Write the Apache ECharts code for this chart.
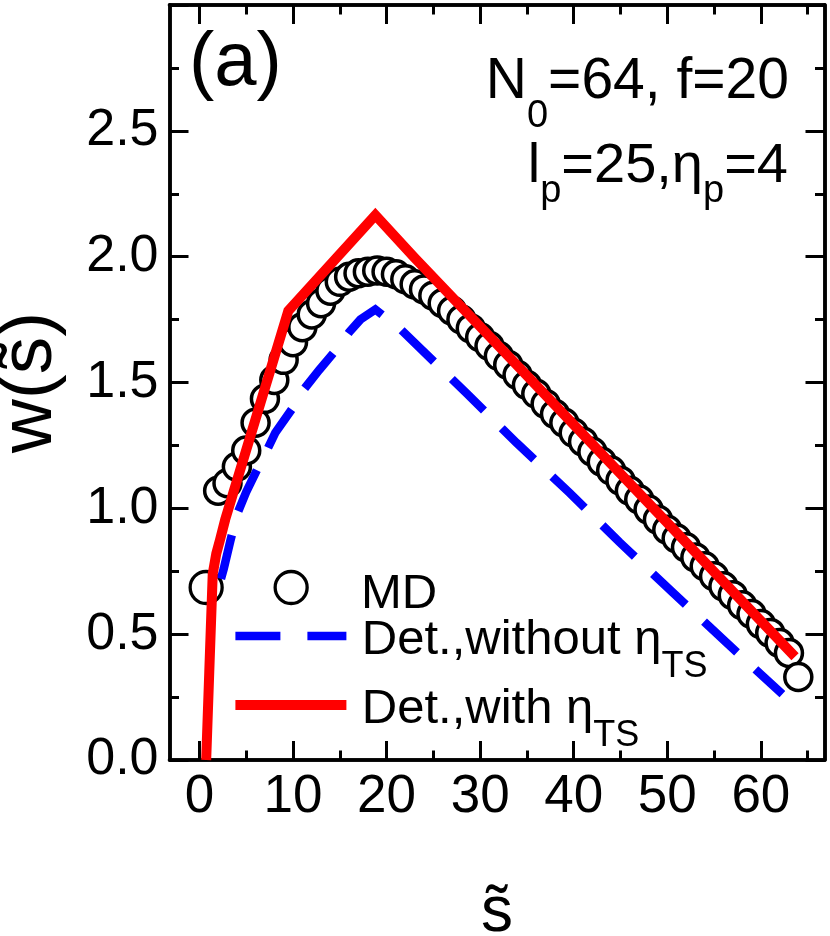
<!DOCTYPE html>
<html>
<head>
<meta charset="utf-8">
<script src="https://cdn.jsdelivr.net/npm/echarts@6/dist/echarts.min.js"></script>
<style>
  html, body { margin: 0; padding: 0; background: #fff; }
  #chart { width: 830px; height: 936px; }
</style>
</head>
<body>
<div id="chart"></div>
<script>
// MD points, one per s from 2 to 64
const mdS = [2, 3, 4, 5, 6, 7, 8, 9, 10, 11, 12, 13, 14, 15, 16, 17, 18, 19, 20, 21,
  22, 23, 24, 25, 26, 27, 28, 29, 30, 31, 32, 33, 34, 35, 36, 37, 38, 39, 40, 41,
  42, 43, 44, 45, 46, 47, 48, 49, 50, 51, 52, 53, 54, 55, 56, 57, 58, 59, 60, 61,
  62, 63, 64];
const mdW = [1.07, 1.10, 1.165, 1.23, 1.34, 1.435, 1.51, 1.59, 1.66, 1.72, 1.77, 1.815, 1.865, 1.90, 1.92, 1.934, 1.94, 1.945, 1.94, 1.93,
  1.91, 1.89, 1.87, 1.845, 1.815, 1.785, 1.75, 1.715, 1.68, 1.645, 1.605, 1.57, 1.53, 1.49, 1.455, 1.415, 1.375, 1.34, 1.30, 1.265,
  1.225, 1.185, 1.15, 1.11, 1.07, 1.035, 0.995, 0.955, 0.915, 0.88, 0.845, 0.805, 0.77, 0.73, 0.69, 0.655, 0.615, 0.58, 0.54, 0.505,
  0.465, 0.425, 0.33];

// deterministic model without eta_TS (blue dashed)
const noEtaS = [2.3, 2.6, 3.3, 4.0, 5.0, 6.3, 7.2, 8.1, 9.9, 11.1, 12.8, 14.5, 16.0, 17.2, 18.8,
  21.4, 28.6, 33.9, 39.6, 44.9, 50.6, 56.3, 62.3];
const noEtaW = [0.72, 0.76, 0.87, 0.975, 1.065, 1.165, 1.23, 1.30, 1.395, 1.47, 1.55, 1.625, 1.70, 1.75, 1.79,
  1.715, 1.455, 1.26, 1.06, 0.865, 0.665, 0.467, 0.262];

// deterministic model with eta_TS (red solid)
const etaS = [0.72, 1.05, 1.42, 1.8, 2.2, 2.75, 9.5, 18.8, 23.0, 63.65];
const etaW = [0.0, 0.35, 0.74, 0.82, 0.875, 0.955, 1.785, 2.165, 1.995, 0.41];

const xMajor = [0, 10, 20, 30, 40, 50, 60];
const xMinor = [5, 15, 25, 35, 45, 55, 65];
const yMajor = [0, 0.5, 1, 1.5, 2, 2.5, 3];
const yMinor = [0.25, 0.75, 1.25, 1.75, 2.25, 2.75];
const yLabels = [0, 0.5, 1, 1.5, 2, 2.5];

const font = 'Liberation Sans, Arial, Helvetica, sans-serif';

function pairs(xs, ys) {
  return xs.map((x, i) => [x, ys[i]]);
}

function xAxisDef(pos, ticks, len, withLabels) {
  return {
    type: 'value', position: pos, min: -3.2, max: 66.8,
    axisLine: { show: true, onZero: false, lineStyle: { color: '#000', width: 3.5 } },
    axisTick: { show: true, inside: true, length: len, customValues: ticks, lineStyle: { color: '#000', width: 3 } },
    axisLabel: withLabels ? {
      show: true, customValues: xMajor, margin: 11, color: '#000',
      fontSize: 53, fontFamily: font
    } : { show: false },
    splitLine: { show: false },
    name: withLabels ? 's\u0303' : '',
    nameLocation: 'middle', nameGap: 121, nameMoveOverlap: false,
    nameTextStyle: { fontSize: 64, fontFamily: font, color: '#000' }
  };
}

function yAxisDef(pos, ticks, len, withLabels) {
  return {
    type: 'value', position: pos, min: 0, max: 3,
    axisLine: { show: true, onZero: false, lineStyle: { color: '#000', width: 3.5 } },
    axisTick: { show: true, inside: true, length: len, customValues: ticks, lineStyle: { color: '#000', width: 3 } },
    axisLabel: withLabels ? {
      show: true, customValues: yLabels, margin: 11, color: '#000',
      fontSize: 52, fontFamily: font, formatter: v => v.toFixed(1)
    } : { show: false },
    splitLine: { show: false },
    name: withLabels ? 'w(s\u0303)' : '',
    nameLocation: 'middle', nameGap: 102, nameMoveOverlap: false,
    nameTextStyle: { fontSize: 75, fontFamily: font, color: '#000' }
  };
}

// legend text: main text + lowered subscript
const legendRich = {
  sp: { width: 10.4 },
  spm: { width: 48.8 },
  a: { fontSize: 49, fontFamily: font, color: '#000', lineHeight: 40.4, verticalAlign: 'top' },
  m: { fontSize: 49, fontFamily: font, color: '#000', lineHeight: 36, verticalAlign: 'top' },
  b: { fontSize: 36, fontFamily: font, color: '#000', lineHeight: 26, padding: [33.2, 0, 0, 0], verticalAlign: 'top' }
};

function legendDef(name, icon, w, h, style, left, top, text) {
  return {
    data: [{ name: name, icon: icon, itemStyle: style }],
    left: left, top: top, padding: 0, orient: 'vertical',
    itemWidth: w, itemHeight: h, selectedMode: false, z: 1,
    formatter: () => text,
    textStyle: { color: '#000', rich: legendRich }
  };
}

const chart = echarts.init(document.getElementById('chart'), null, { renderer: 'canvas' });

chart.setOption({
  animation: false,
  textStyle: { fontFamily: font },
  grid: { left: 169.5, top: 5, width: 655, height: 755, containLabel: false, outerBoundsMode: 'none' },
  xAxis: [
    xAxisDef('bottom', xMajor, 19, true),
    xAxisDef('bottom', xMinor, 9.5, false),
    xAxisDef('top', xMajor, 19, false),
    xAxisDef('top', xMinor, 9.5, false)
  ],
  yAxis: [
    yAxisDef('left', yMajor, 19, true),
    yAxisDef('left', yMinor, 9.5, false),
    yAxisDef('right', yMajor, 19, false),
    yAxisDef('right', yMinor, 9.5, false)
  ],
  legend: [
    legendDef('MD',
      'path://M1.5,17.5a16,16 0 1,0 32,0a16,16 0 1,0 -32,0M86.5,17.5a16,16 0 1,0 32,0a16,16 0 1,0 -32,0',
      117, 32, { color: '#fff', borderColor: '#000', borderWidth: 3.3 },
      188.5, 569.5, '{spm| }{m|MD}'),
    legendDef('noEta', 'path://M0,0h45v8.5h-45zM72,0h39v8.5h-39z',
      111, 8.5, { color: '#0000ff', borderWidth: 0 },
      235.4, 615.8, '{sp| }{a|Det.,without \u03b7}{b|TS}'),
    legendDef('eta', 'path://M0,0h111v10h-111z',
      111, 10, { color: '#ff0000', borderWidth: 0 },
      235.4, 684.7, '{sp| }{a|Det.,with \u03b7}{b|TS}')
  ],
  graphic: [
    {
      type: 'text', x: 189, y: 64.5, silent: true,
      style: { text: '(a)', fontSize: 76, fontFamily: font, fill: '#000', align: 'left', verticalAlign: 'middle' }
    },
    {
      type: 'text', x: 789, y: 53.5, silent: true,
      style: {
        text: '{a|N}{b|0}{a|=64, f=20}', align: 'right', verticalAlign: 'top',
        rich: {
          a: { fontSize: 57, fontFamily: font, fill: '#000', lineHeight: 60, verticalAlign: 'top' },
          b: { fontSize: 38, fontFamily: font, fill: '#000', lineHeight: 28, padding: [44, 0, 0, 0], verticalAlign: 'top' }
        }
      }
    },
    {
      type: 'text', x: 788, y: 138.9, silent: true,
      style: {
        text: '{a|l}{b|p}{a|=25,\u03b7}{b|p}{a|=4}', align: 'right', verticalAlign: 'top',
        rich: {
          a: { fontSize: 56, fontFamily: font, fill: '#000', lineHeight: 60, verticalAlign: 'top' },
          b: { fontSize: 38, fontFamily: font, fill: '#000', lineHeight: 28, padding: [34, 0, 0, 0], verticalAlign: 'top' }
        }
      }
    }
  ],
  series: [
    {
      name: 'MD', type: 'scatter', data: pairs(mdS, mdW),
      symbol: 'circle', symbolSize: 27, z: 2, silent: true,
      itemStyle: { color: '#fff', borderColor: '#000', borderWidth: 3.5, opacity: 1 },
      emphasis: { disabled: true }
    },
    {
      name: 'noEta', type: 'line', data: pairs(noEtaS, noEtaW),
      symbol: 'none', z: 3, silent: true,
      lineStyle: { color: '#0000ff', width: 8.5, type: [45, 25], cap: 'butt', join: 'miter' },
      emphasis: { disabled: true }
    },
    {
      name: 'eta', type: 'line', data: pairs(etaS, etaW),
      symbol: 'none', z: 4, silent: true,
      lineStyle: { color: '#ff0000', width: 10, cap: 'butt', join: 'miter' },
      emphasis: { disabled: true }
    }
  ]
});
</script>
</body>
</html>
